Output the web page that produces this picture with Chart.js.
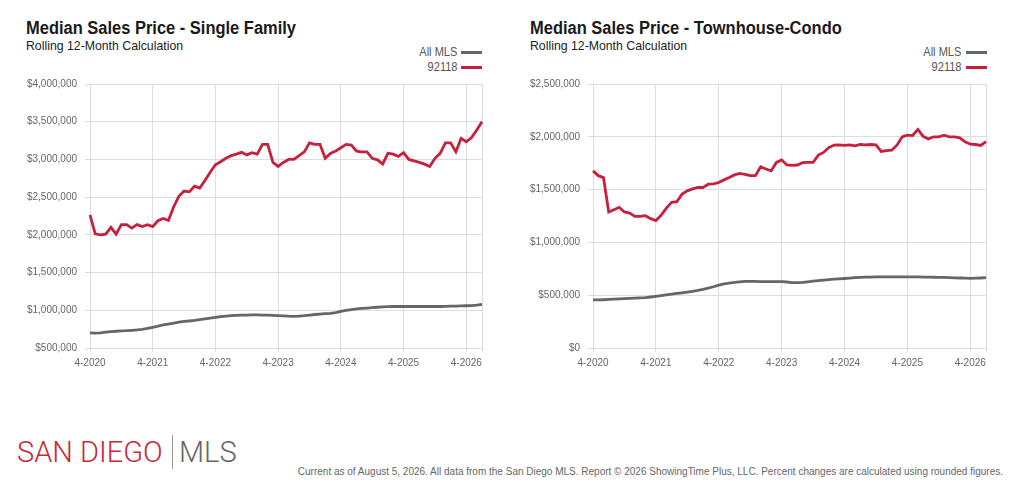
<!DOCTYPE html>
<html>
<head>
<meta charset="utf-8">
<script src="https://cdn.jsdelivr.net/npm/chart.js@4.4.1/dist/chart.umd.min.js"></script>
<style>
  html, body { margin:0; padding:0; background:#fff; width:1024px; height:504px; overflow:hidden; position:relative; }
  .t { position:absolute; white-space:nowrap; line-height:1; }
  .title { font-family:"Liberation Sans",Arial,sans-serif; font-weight:bold; font-size:18px; color:#1a1a1a; transform:scaleX(0.915); transform-origin:left top; }
  .sub { font-family:"Liberation Sans",Arial,sans-serif; font-size:13px; color:#222; transform:scaleX(0.945); transform-origin:left top; }
  .leg { font-family:"Liberation Sans",Arial,sans-serif; font-size:12px; color:#555; text-align:right; transform:scaleX(0.92); transform-origin:right top; }
  .lline { position:absolute; height:3px; width:21px; }
  .cw { position:absolute; }
  .logo { font-family:Roboto,"Open Sans",sans-serif; font-weight:300; font-size:29px; }
  .foot { font-family:"Liberation Sans",Arial,sans-serif; font-size:10px; color:#666; }
</style>
</head>
<body>
<div class="t title" style="left:26px;top:19px;">Median Sales Price - Single Family</div>
<div class="t sub" style="left:26px;top:39px;">Rolling 12-Month Calculation</div>
<div class="t leg" style="right:567px;top:46px;">All MLS</div>
<div class="t leg" style="right:567px;top:61px;">92118</div>
<div class="lline" style="left:461px;top:51px;background:#666;"></div>
<div class="lline" style="left:461px;top:66px;background:#c8203c;"></div>

<div class="t title" style="left:530px;top:19px;">Median Sales Price - Townhouse-Condo</div>
<div class="t sub" style="left:530px;top:39px;">Rolling 12-Month Calculation</div>
<div class="t leg" style="right:63px;top:46px;">All MLS</div>
<div class="t leg" style="right:63px;top:61px;">92118</div>
<div class="lline" style="left:966px;top:51px;background:#666;"></div>
<div class="lline" style="left:966px;top:66px;background:#c8203c;"></div>

<div class="cw" style="left:20px;top:70px;width:470px;height:308px;"><canvas id="c1"></canvas></div>
<div class="cw" style="left:523px;top:70px;width:470px;height:308px;"><canvas id="c2"></canvas></div>

<div class="t logo" style="left:17px;top:438px;color:#c8283c;">SAN DIEGO</div>
<div style="position:absolute;left:172px;top:435px;width:1px;height:34px;background:#999;"></div>
<div class="t logo" style="left:179px;top:438px;color:#666;">MLS</div>
<div class="t foot" style="right:21px;top:467px;">Current as of August 5, 2026. All data from the San Diego MLS. Report © 2026 ShowingTime Plus, LLC. Percent changes are calculated using rounded figures.</div>

<script>
const months = [
  "4-2020","5-2020","6-2020","7-2020","8-2020","9-2020","10-2020","11-2020","12-2020",
  "1-2021","2-2021","3-2021","4-2021","5-2021","6-2021","7-2021","8-2021","9-2021","10-2021","11-2021","12-2021",
  "1-2022","2-2022","3-2022","4-2022","5-2022","6-2022","7-2022","8-2022","9-2022","10-2022","11-2022","12-2022",
  "1-2023","2-2023","3-2023","4-2023","5-2023","6-2023","7-2023","8-2023","9-2023","10-2023","11-2023","12-2023",
  "1-2024","2-2024","3-2024","4-2024","5-2024","6-2024","7-2024","8-2024","9-2024","10-2024","11-2024","12-2024",
  "1-2025","2-2025","3-2025","4-2025","5-2025","6-2025","7-2025","8-2025","9-2025","10-2025","11-2025","12-2025",
  "1-2026","2-2026","3-2026","4-2026","5-2026","6-2026","7-2026"
];

const sfAllMLS = [
  700000,697000,700000,710000,718000,722000,727000,730000,735000,
  740000,748000,760000,775000,790000,805000,818000,830000,842000,852000,858000,865000,
  875000,885000,895000,905000,915000,922000,928000,932000,935000,937000,938000,938000,
  937000,935000,933000,930000,926000,922000,920000,922000,928000,936000,944000,950000,
  955000,960000,970000,985000,998000,1008000,1018000,1025000,1030000,1035000,1040000,1045000,
  1048000,1050000,1050000,1050000,1050000,1050000,1050000,1050000,1050000,1050000,1050000,1052000,
  1054000,1056000,1058000,1060000,1062000,1068000,1078000
];
const sf92118 = [
  2266000,2013000,2000000,2010000,2100000,2010000,2135000,2135000,2090000,
  2135000,2110000,2135000,2110000,2187000,2217000,2190000,2370000,2510000,2580000,2570000,2645000,
  2620000,2720000,2830000,2930000,2970000,3016000,3050000,3070000,3094000,3060000,3090000,3070000,
  3200000,3200000,2960000,2907000,2960000,3000000,3000000,3050000,3100000,3220000,3200000,3200000,
  3015000,3080000,3110000,3155000,3200000,3190000,3110000,3100000,3100000,3015000,2995000,2940000,
  3080000,3070000,3040000,3090000,3000000,2980000,2960000,2937000,2907000,3015000,3080000,3220000,
  3220000,3100000,3280000,3234000,3290000,3390000,3500000
];
const tcAllMLS = [
  455000,455000,457000,460000,463000,466000,468000,470000,472000,
  475000,478000,483000,489000,496000,503000,510000,517000,523000,530000,537000,545000,
  555000,567000,580000,596000,607000,615000,622000,627000,630000,631000,630000,629000,
  628000,628000,628000,628000,625000,620000,620000,622000,627000,633000,638000,643000,
  648000,652000,655000,658000,662000,666000,669000,671000,672000,673000,674000,674000,
  674000,674000,674000,674000,674000,673000,672000,671000,670000,669000,668000,667000,
  665000,663000,661000,660000,661000,663000,666000
];
const tc92118 = [
  1677000,1632000,1614000,1288000,1310000,1332000,1288000,1278000,1247000,
  1247000,1253000,1225000,1207000,1256000,1325000,1379000,1385000,1457000,1488000,1507000,1520000,
  1520000,1551000,1554000,1567000,1592000,1614000,1639000,1654000,1645000,1632000,1632000,1717000,
  1695000,1677000,1757000,1780000,1733000,1730000,1733000,1755000,1757000,1757000,1827000,1852000,
  1898000,1921000,1923000,1918000,1923000,1915000,1927000,1923000,1927000,1923000,1861000,1870000,
  1873000,1921000,1999000,2015000,2012000,2070000,2005000,1980000,2000000,2000000,2015000,2000000,
  2000000,1990000,1952000,1930000,1927000,1918000,1955000
];

const sfTicks = { min: 500000, max: 4000000, step: 500000 };
const tcTicks = { min: 0, max: 2500000, step: 500000 };

const RED = "#c8203c", GRAY = "#666666", GRID = "#dedede";

function makeChart(id, allMLS, zip, yt, padTop, padRight) {
  new Chart(document.getElementById(id), {
    type: "line",
    data: {
      labels: months,
      datasets: [
        { label: "92118", data: zip, borderColor: RED, borderWidth: 2.8, pointRadius: 0, tension: 0, order: 1 },
        { label: "All MLS", data: allMLS, borderColor: GRAY, borderWidth: 2.8, pointRadius: 0, tension: 0, order: 2 }
      ]
    },
    options: {
      responsive: true,
      maintainAspectRatio: false,
      animation: false,
      devicePixelRatio: 1,
      layout: { padding: { top: padTop, right: padRight, left: 0, bottom: 0 } },
      plugins: { legend: { display: false }, tooltip: { enabled: false } },
      scales: {
        x: {
          type: "category",
          offset: false,
          afterFit: s => { s.height = 30; },
          grid: { color: GRID, lineWidth: 1, tickLength: 4, drawOnChartArea: true },
          border: { color: GRID },
          ticks: {
            autoSkip: false, maxRotation: 0, minRotation: 0, padding: 5,
            color: "#666", font: { family: "'Liberation Sans', Arial, sans-serif", size: 10 },
            callback: function(v, i) {
              const l = months[i];
              if (l.startsWith("4-")) return l;
              if (i === months.length - 1) return "";
              return null;
            }
          }
        },
        y: {
          min: yt.min, max: yt.max,
          afterFit: s => { s.width = 70; },
          grid: { color: GRID, lineWidth: 1, tickLength: 5 },
          border: { color: GRID },
          ticks: {
            stepSize: yt.step, padding: 8,
            color: "#666", font: { family: "'Liberation Sans', Arial, sans-serif", size: 10 },
            callback: v => "$" + Number(v).toLocaleString("en-US")
          }
        }
      }
    }
  });
}

makeChart("c1", sfAllMLS, sf92118, sfTicks, 12.5, 8);
makeChart("c2", tcAllMLS, tc92118, tcTicks, 11.7, 7);
</script>
</body>
</html>
